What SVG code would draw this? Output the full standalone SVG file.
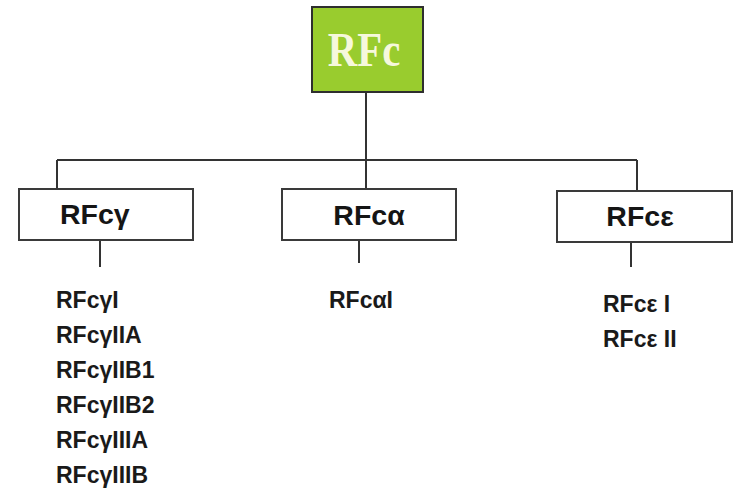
<svg xmlns="http://www.w3.org/2000/svg" width="734" height="490" viewBox="0 0 734 490">
<style>
.box{fill:#ffffff;stroke:#3a3a3a;stroke-width:2}
.root{fill:#99cc2e;stroke:#2e2e2e;stroke-width:2}
.lbl{font-family:"Liberation Sans",Arial,sans-serif;font-weight:bold;font-size:28.5px;fill:#151515}
.item{font-family:"Liberation Sans",Arial,sans-serif;font-weight:bold;font-size:23px;fill:#1a1a1a}
.rt{font-family:"Liberation Serif","Times New Roman",serif;font-weight:bold;font-size:48px;fill:#f6f8dc}
.ln{stroke:#333333;stroke-width:2;fill:none}
</style>
<rect width="734" height="490" fill="#ffffff"/>
<g id="connectors">
<path class="ln" d="M366 92 V160 M57 160 H637 M57 160 V189 M366 160 V189 M637 160 V191"/>
<path class="ln" d="M100 240 V267 M359 240 V263 M631 242 V267"/>
</g>
<g id="node-rfc">
<rect class="root" x="312" y="7" width="111" height="85"/>
<text class="rt" transform="translate(364,66) scale(0.85,1)" text-anchor="middle">RFc</text>
</g>
<g id="node-gamma">
<rect class="box" x="19" y="189" width="174" height="51"/>
<text class="lbl" x="60" y="224">RFcγ</text>
<text class="item" x="56" y="308">RFcγI</text>
<text class="item" x="56" y="343">RFcγIIA</text>
<text class="item" x="56" y="378">RFcγIIB1</text>
<text class="item" x="56" y="413">RFcγIIB2</text>
<text class="item" x="56" y="448">RFcγIIIA</text>
<text class="item" x="56" y="483">RFcγIIIB</text>
</g>
<g id="node-alpha">
<rect class="box" x="282" y="189" width="174" height="51"/>
<text class="lbl" x="369" y="225" text-anchor="middle">RFcα</text>
<text class="item" x="329" y="308">RFcαI</text>
</g>
<g id="node-epsilon">
<rect class="box" x="557" y="191" width="175" height="51"/>
<text class="lbl" x="640" y="226" text-anchor="middle">RFcε</text>
<text class="item" x="603" y="312">RFcε I</text>
<text class="item" x="603" y="347">RFcε II</text>
</g>
</svg>
